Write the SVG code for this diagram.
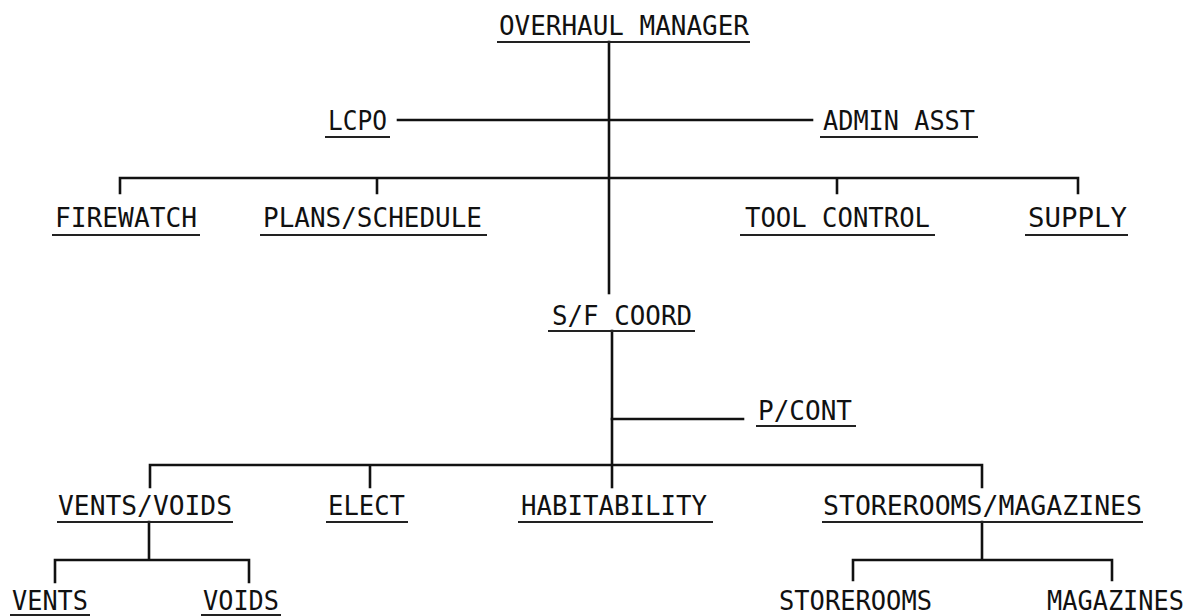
<svg xmlns="http://www.w3.org/2000/svg" width="1194" height="616" viewBox="0 0 1194 616">
<style>
.t{font-family:"DejaVu Sans Mono","Liberation Mono",monospace;font-size:27px;fill:#111;}
.u{stroke:#222;stroke-width:2;fill:none;}
.c{stroke:#111;stroke-width:2.6;fill:none;stroke-linecap:square;}
</style>
<rect width="1194" height="616" fill="#fff"/>
<g id="connectors">
<path class="c" d="M609 42V293"/>
<path class="c" d="M398 120H812"/>
<path class="c" d="M120 193V178H1078V193M377 178V193M837 178V193"/>
<path class="c" d="M612 331V487"/>
<path class="c" d="M612 419H743"/>
<path class="c" d="M150 487V465H982V487M370 465V487"/>
<path class="c" d="M149 522V560M55 582V560H249V582"/>
<path class="c" d="M982 522V560M853 580V560H1112V580"/>
</g>
<g id="overhaul-manager"><text class="t" x="499" y="35" textLength="250" lengthAdjust="spacingAndGlyphs">OVERHAUL MANAGER</text><path class="u" d="M497 42H750"/></g>
<g id="lcpo"><text class="t" x="328" y="130" textLength="59" lengthAdjust="spacingAndGlyphs">LCPO</text><path class="u" d="M325 137H390"/></g>
<g id="admin-asst"><text class="t" x="823" y="130" textLength="152" lengthAdjust="spacingAndGlyphs">ADMIN ASST</text><path class="u" d="M820 137H978"/></g>
<g id="firewatch"><text class="t" x="55" y="227" textLength="142" lengthAdjust="spacingAndGlyphs">FIREWATCH</text><path class="u" d="M52 235H200"/></g>
<g id="plans-schedule"><text class="t" x="263" y="227" textLength="219" lengthAdjust="spacingAndGlyphs">PLANS/SCHEDULE</text><path class="u" d="M260 235H487"/></g>
<g id="tool-control"><text class="t" x="745" y="227" textLength="185" lengthAdjust="spacingAndGlyphs">TOOL CONTROL</text><path class="u" d="M740 235H935"/></g>
<g id="supply"><text class="t" x="1028" y="227" textLength="99" lengthAdjust="spacingAndGlyphs">SUPPLY</text><path class="u" d="M1025 235H1128"/></g>
<g id="sf-coord"><text class="t" x="552" y="325" textLength="140" lengthAdjust="spacingAndGlyphs">S/F COORD</text><path class="u" d="M548 331H695"/></g>
<g id="p-cont"><text class="t" x="758" y="420" textLength="94" lengthAdjust="spacingAndGlyphs">P/CONT</text><path class="u" d="M756 426H856"/></g>
<g id="vents-voids"><text class="t" x="58" y="515" textLength="174" lengthAdjust="spacingAndGlyphs">VENTS/VOIDS</text><path class="u" d="M57 522H233"/></g>
<g id="elect"><text class="t" x="328" y="515" textLength="77" lengthAdjust="spacingAndGlyphs">ELECT</text><path class="u" d="M326 522H408"/></g>
<g id="habitability"><text class="t" x="521" y="515" textLength="186" lengthAdjust="spacingAndGlyphs">HABITABILITY</text><path class="u" d="M518 522H713"/></g>
<g id="storerooms-magazines"><text class="t" x="823" y="515" textLength="319" lengthAdjust="spacingAndGlyphs">STOREROOMS/MAGAZINES</text><path class="u" d="M822 522H1143"/></g>
<g id="vents"><text class="t" x="12" y="610" textLength="76" lengthAdjust="spacingAndGlyphs">VENTS</text><path class="u" d="M10 615H90"/></g>
<g id="voids"><text class="t" x="203" y="610" textLength="76" lengthAdjust="spacingAndGlyphs">VOIDS</text><path class="u" d="M201 615H281"/></g>
<g id="storerooms"><text class="t" x="779" y="610" textLength="153" lengthAdjust="spacingAndGlyphs">STOREROOMS</text></g>
<g id="magazines"><text class="t" x="1047" y="610" textLength="137" lengthAdjust="spacingAndGlyphs">MAGAZINES</text></g>
</svg>
